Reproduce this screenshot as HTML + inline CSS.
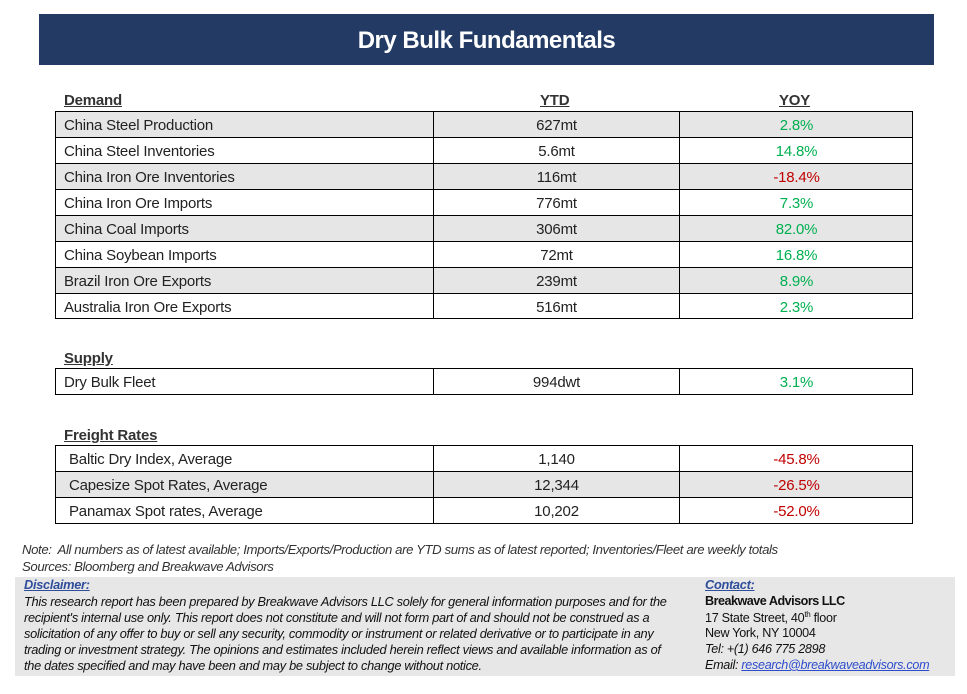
<!DOCTYPE html>
<html><head><meta charset="utf-8">
<style>
*{margin:0;padding:0;box-sizing:border-box}
body{width:967px;height:694px;background:#fff;position:relative;overflow:hidden;font-family:"Liberation Sans",sans-serif;color:#222}
.abs{position:absolute}
#title{left:39px;top:14px;width:895px;height:51px;background:#223a64;color:#fff;font-weight:bold;font-size:24px;line-height:53px;text-align:center;letter-spacing:-0.5px}
.hdr{font-weight:bold;font-size:15px;text-decoration:underline;color:#333;letter-spacing:-0.2px}
.row{position:absolute;left:55px;width:858px;border:1px solid #000;font-size:15px;letter-spacing:-0.2px}
.row .c{position:absolute;top:2px;bottom:0;display:flex;align-items:center}
.row .c1{left:0;width:378px;padding-left:8px;border-right:1px solid #000;top:0;padding-top:2px}
.row .c2{left:378px;width:246px;justify-content:center;border-right:1px solid #000;top:0;padding-top:2px}
.row .c3{left:624px;width:233px;justify-content:center;padding-top:0}
.g{background:#e6e6e6}
.pos{color:#00b050}.neg{color:#c00000}
.note{font-style:italic;font-size:13.2px;color:#333;white-space:nowrap;letter-spacing:-0.4px}
#foot{left:15px;top:577px;width:940px;height:99px;background:#e7e7e7}
.ft{font-style:italic;font-size:12.8px;color:#111;white-space:nowrap;letter-spacing:-0.3px;position:absolute}
.ct{font-size:12.6px;color:#111;white-space:nowrap;position:absolute;letter-spacing:-0.3px}
.lk{color:#2e4d9a;text-decoration:underline;font-weight:bold;font-style:italic}
</style></head><body>
<div id="title" class="abs">Dry Bulk Fundamentals</div>
<div class="abs hdr" style="left:64px;top:92px">Demand</div>
<div class="abs hdr" style="left:540px;top:92px">YTD</div>
<div class="abs hdr" style="left:779px;top:92px">YOY</div>
<div class="abs hdr" style="left:64px;top:350px">Supply</div>
<div class="abs hdr" style="left:64px;top:427px">Freight Rates</div>
<div id="rows"></div>
<div class="abs note" style="left:22px;top:542px">Note:&nbsp; All numbers as of latest available; Imports/Exports/Production are YTD sums as of latest reported; Inventories/Fleet are weekly totals</div>
<div class="abs note" style="left:22px;top:559px">Sources: Bloomberg and Breakwave Advisors</div>
<div id="foot" class="abs"></div>
<div class="ft lk" style="left:24px;top:577px">Disclaimer:</div>
<div class="ft" style="left:24px;top:594px">This research report has been prepared by Breakwave Advisors LLC solely for general information purposes and for the</div>
<div class="ft" style="left:24px;top:610px">recipient's internal use only. This report does not constitute and will not form part of and should not be construed as a</div>
<div class="ft" style="left:24px;top:626px">solicitation of any offer to buy or sell any security, commodity or instrument or related derivative or to participate in any</div>
<div class="ft" style="left:24px;top:642px">trading or investment strategy. The opinions and estimates included herein reflect views and available information as of</div>
<div class="ft" style="left:24px;top:658px">the dates specified and may have been and may be subject to change without notice.</div>
<div class="ft lk" style="left:705px;top:577px">Contact:</div>
<div class="ct" style="left:705px;top:594px;font-weight:bold;letter-spacing:-0.5px">Breakwave Advisors LLC</div>
<div class="ct" style="left:705px;top:610px">17 State Street, 40<sup style="font-size:8px">th</sup> floor</div>
<div class="ct" style="left:705px;top:626px">New York, NY 10004</div>
<div class="ct" style="left:705px;top:642px;font-style:italic">Tel: +(1) 646 775 2898</div>
<div class="ct" style="left:705px;top:658px;font-style:italic">Email: <span style="color:#2e4dcc;text-decoration:underline">research@breakwaveadvisors.com</span></div>
<script>
const labels=["China Steel Production","China Steel Inventories","China Iron Ore Inventories","China Iron Ore Imports","China Coal Imports","China Soybean Imports","Brazil Iron Ore Exports","Australia Iron Ore Exports","Dry Bulk Fleet","Baltic Dry Index, Average","Capesize Spot Rates, Average","Panamax Spot rates, Average"];
const ytd=["627mt","5.6mt","116mt","776mt","306mt","72mt","239mt","516mt","994dwt","1,140","12,344","10,202"];
const yoy=[2.8,14.8,-18.4,7.3,82.0,16.8,8.9,2.3,3.1,-45.8,-26.5,-52.0];
const tops=[111,137,163,189,215,241,267,293,368,445,471,497];
const hts=[26,26,26,26,26,26,26,25,26,26,26,26];
const gray=[1,0,1,0,1,0,1,0,0,0,1,0];
const host=document.getElementById('rows');
labels.forEach((l,i)=>{
  const r=document.createElement('div');
  r.className='row'+(gray[i]?' g':'');
  r.style.top=tops[i]+'px';r.style.height=(hts[i]+1)+'px';
  if((i>0&&i<8)||i>9){r.style.borderTop='none';r.style.top=(tops[i]+1)+'px';r.style.height=hts[i]+'px';}
  
  
  const pad=i>=9?'13px':'8px';
  const v=yoy[i].toFixed(1)+'%';
  r.innerHTML='<div class="c c1" style="padding-left:'+pad+'">'+l+'</div><div class="c c2">'+ytd[i]+'</div><div class="c c3 '+(yoy[i]<0?'neg':'pos')+'">'+v+'</div>';
  host.appendChild(r);
});
</script>
</body></html>
